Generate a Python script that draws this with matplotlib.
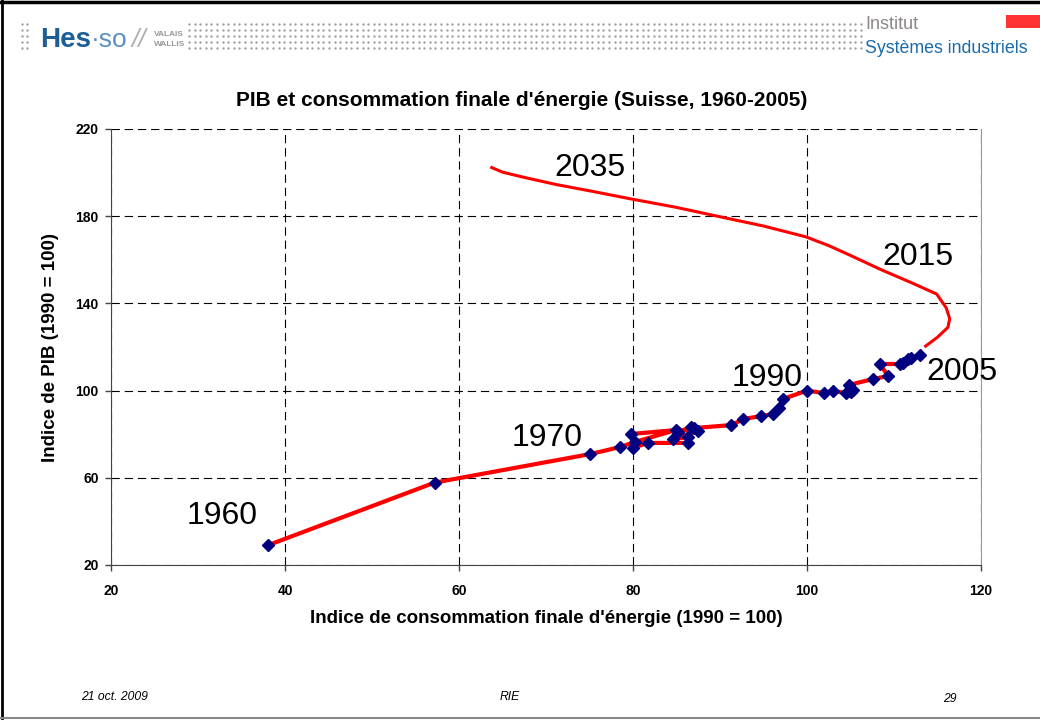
import numpy as np
import matplotlib.pyplot as plt

plt.rcParams['font.family'] = ['Liberation Sans', 'DejaVu Sans']
plt.rcParams['lines.scale_dashes'] = False

# indices, 1990 = 100 (1960, 1965, then yearly 1970-2005)
energy = [38.0, 57.2,
          75.1, 78.5, 80.2, 84.9, 79.8, 80.0, 81.7, 86.3, 86.3, 84.6,
          87.5, 86.7, 85.2, 87.0, 91.3, 92.7, 94.7, 96.1, 96.8, 97.2,
          100.0, 101.9, 103.0, 104.5, 105.3, 104.8, 105.0, 104.8, 107.6, 109.3,
          108.4, 110.7, 111.0, 111.6, 111.9, 113.0]
pib = [29.0, 57.8,
       70.9, 74.1, 76.4, 81.9, 80.1, 73.7, 76.0, 76.0, 78.7, 77.8,
       81.5, 83.3, 81.0, 82.8, 84.2, 87.0, 88.3, 89.3, 92.0, 96.1,
       100.0, 98.9, 99.8, 98.9, 100.3, 99.8, 99.4, 102.6, 105.3, 106.7,
       112.2, 112.2, 112.8, 114.5, 114.8, 116.3]

# scenario 2005 -> 2035 (no markers)
proj_energy = [113.5, 115.0, 116.2, 116.4, 116.0, 114.9, 112.0, 108.5, 105.0,
               102.5, 99.9, 95.0, 89.7, 84.8, 79.8, 75.2, 71.2, 67.5, 65.0, 63.6]
proj_pib = [120.0, 124.5, 129.0, 133.0, 138.0, 144.3, 149.5, 155.5, 162.0,
            166.5, 170.5, 175.5, 180.0, 184.2, 187.9, 191.5, 194.5, 197.8, 200.2, 202.6]

year_labels = ['1960', '1970', '1990', '2005', '2015', '2035']
label_pos = [(32.8, 42.5), (70.1, 78.3), (95.4, 105.8), (117.8, 108.5), (112.7, 161.3), (75.1, 202.1)]

fig = plt.figure(figsize=(10.4, 7.2), dpi=100)

# page decoration in pixel coordinates
deco = fig.add_axes([0, 0, 1, 1])
deco.set_xlim(0, 1040)
deco.set_ylim(720, 0)
deco.axis('off')

deco.plot([0, 1040], [2, 2], color='black', lw=2.5)
deco.plot([1.5, 1.5], [0, 720], color='black', lw=2)
deco.plot([0, 1040], [718, 718], color='#888888', lw=1.5)

# dotted band of the header
rows = [24, 30, 36, 42, 48]
for yy in rows:
    xs = np.arange(22, 30, 5)
    deco.scatter(xs, [yy] * len(xs), s=3, color='#a0a0a0', lw=0)
    xs = np.arange(189, 862, 5.6)
    deco.scatter(xs, [yy] * len(xs), s=3, color='#a0a0a0', lw=0)

deco.text(40, 47, 'Hes', color='#1d5d98', fontsize=20, fontweight='bold', va='baseline')
deco.text(91, 47, '\u00b7so', color='#5e8fc2', fontsize=19, va='baseline')
deco.text(131, 47, '//', color='#b0b0b0', fontsize=19, style='italic', va='baseline')
deco.text(154, 36, 'VALAIS', color='#999999', fontsize=6, fontweight='bold', va='baseline')
deco.text(154, 46, 'WALLIS', color='#999999', fontsize=6, fontweight='bold', va='baseline')

deco.text(865, 29, 'Institut', color='#8c8686', fontsize=13, va='baseline')
deco.text(865, 53, 'Syst\u00e8mes industriels', color='#1a6aaa', fontsize=12.8, va='baseline')
deco.add_patch(plt.Rectangle((1006, 15), 34, 13, color='#ff3333', lw=0))

deco.text(115, 697, '21 oct. 2009', fontsize=8.7, style='italic', ha='center', va='center')
deco.text(510, 697, 'RIE', fontsize=8.7, style='italic', ha='center', va='center')
deco.text(950, 699, '29', fontsize=8.7, style='italic', ha='center', va='center')

deco.text(522, 100, "PIB et consommation finale d'\u00e9nergie (Suisse, 1960-2005)",
          fontsize=15, fontweight='bold', ha='center', va='center')

# chart
ax = fig.add_axes([111 / 1040, 1 - 565 / 720, 870 / 1040, 436 / 720])
ax.set_facecolor('none')
ax.plot(proj_energy, proj_pib, color='red', lw=2.2, solid_capstyle='butt')
ax.plot(energy, pib, color='red', lw=3, zorder=3)
ax.plot(energy, pib, ls='none', marker='D', ms=6, color='#000080', zorder=4)

for txt, (lx, ly) in zip(year_labels, label_pos):
    ax.text(lx, ly, txt, fontsize=23, ha='center', va='center')

ax.set_xlim(20, 120)
ax.set_ylim(20, 220)
ax.set_xticks(range(20, 121, 20))
ax.set_yticks(range(20, 221, 40))
ax.grid(True, color='black', lw=0.8, ls=(0, (6, 3.5)))
ax.set_axisbelow(True)
ax.spines['top'].set_visible(False)
ax.spines['right'].set_color('#999999')
ax.spines['left'].set_color('#444444')
ax.spines['bottom'].set_color('#444444')
ax.tick_params(direction='out', length=4, width=1, color='#444444', labelsize=10)
for lab in ax.get_xticklabels() + ax.get_yticklabels():
    lab.set_fontweight('bold')
ax.tick_params(axis='x', pad=10)
ax.tick_params(axis='y', pad=5)

ax.set_xlabel("Indice de consommation finale d'\u00e9nergie (1990 = 100)", fontsize=13.5, fontweight='bold', labelpad=8)
ax.set_ylabel('Indice de PIB (1990 = 100)', fontsize=13.5, fontweight='bold', labelpad=12)

fig.savefig('out.png', dpi=100)
